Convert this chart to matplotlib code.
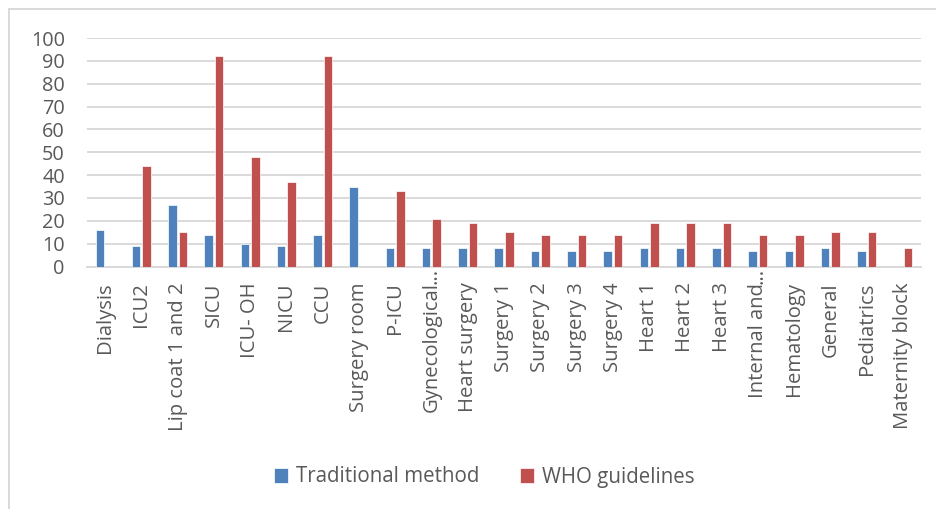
import matplotlib
matplotlib.use("Agg")
import matplotlib.pyplot as plt
from matplotlib.patches import Rectangle
from matplotlib.transforms import offset_copy
import numpy as np

categories = [
    "Dialysis", "ICU2", "Lip coat 1 and 2", "SICU", "ICU- OH", "NICU", "CCU",
    "Surgery room", "P-ICU", "Gynecological...", "Heart surgery", "Surgery 1",
    "Surgery 2", "Surgery 3", "Surgery 4", "Heart 1", "Heart 2", "Heart 3",
    "Internal and...", "Hematology", "General", "Pediatrics", "Maternity block",
]
traditional = [16, 9, 27, 14, 10, 9, 14, 35, 8, 8, 8, 8, 7, 7, 7, 8, 8, 8, 7, 7, 8, 7, 0]
who = [0, 44, 15, 92, 48, 37, 92, 0, 33, 21, 19, 15, 14, 14, 14, 19, 19, 19, 14, 14, 15, 15, 8]
series_names = ["Traditional method", "WHO guidelines"]
yticks = [0, 10, 20, 30, 40, 50, 60, 70, 80, 90, 100]

BLUE = "#4F81BD"
RED = "#C0504D"
TEXT = "#595959"
GRID = "#D9D9D9"
FONT = "Open Sans"

W, H, DPI = 937, 509, 100
fig = plt.figure(figsize=(W / DPI, H / DPI), dpi=DPI)
fig.patch.set_facecolor("white")

# outer chart frame
fig.patches.append(Rectangle((9.5 / W, -0.05), 1.2, 1 - 8.5 / H + 0.05,
                             transform=fig.transFigure, fill=False,
                             edgecolor=GRID, linewidth=1.4))

left, right = 87 / W, 921 / W
bottom, top = 1 - 266.5 / H, 1 - 38 / H
ax = fig.add_axes([left, bottom, right - left, top - bottom])

x = np.arange(len(categories))
bw = 0.235
off = 0.145
b1 = ax.bar(x - off, traditional, width=bw, color=BLUE, edgecolor="white",
            linewidth=0.5, zorder=3, label=series_names[0])
b2 = ax.bar(x + off, who, width=bw, color=RED, edgecolor="white",
            linewidth=0.5, zorder=3, label=series_names[1])

ax.set_xlim(-0.5, len(categories) - 0.5)
ax.set_ylim(0, 100)
ax.set_yticks(yticks)
ax.set_yticklabels([str(v) for v in yticks], fontname=FONT, fontsize=14.3, color=TEXT)
ax.tick_params(axis="y", length=0, pad=16)
ax.tick_params(axis="x", length=0)
ax.set_xticks(x)
ax.set_xticklabels([])
ax.grid(axis="y", color=GRID, linewidth=1.4, zorder=0)
for s in ["top", "right", "left"]:
    ax.spines[s].set_visible(False)
ax.spines["bottom"].set_color(GRID)
ax.spines["bottom"].set_linewidth(1.4)

# rotated category labels; truncated names keep their ellipsis above the text line
trans = ax.get_xaxis_transform()
label_kw = dict(rotation=90, ha="center", fontname=FONT, fontsize=14.6, color=TEXT)
for xi, name in zip(x, categories):
    if name.endswith("..."):
        ax.text(xi, 0, name[:-3], va="top",
                transform=offset_copy(trans, fig=fig, y=-16, units="dots"), **label_kw)
        ax.text(xi, 0, "...", va="bottom",
                transform=offset_copy(trans, fig=fig, y=-17, units="dots"), **label_kw)
    else:
        ax.text(xi, 0, name, va="top",
                transform=offset_copy(trans, fig=fig, y=-16, units="dots"), **label_kw)

leg = fig.legend(handles=[b1, b2], labels=series_names, loc="center",
                 bbox_to_anchor=(484 / W, 1 - 477 / H), ncol=2, frameon=False,
                 handlelength=0.7, handleheight=0.7, handletextpad=0.35,
                 columnspacing=2.0, prop={"family": FONT, "size": 14.8})
for t in leg.get_texts():
    t.set_color(TEXT)

fig.savefig("out.png", dpi=DPI)
